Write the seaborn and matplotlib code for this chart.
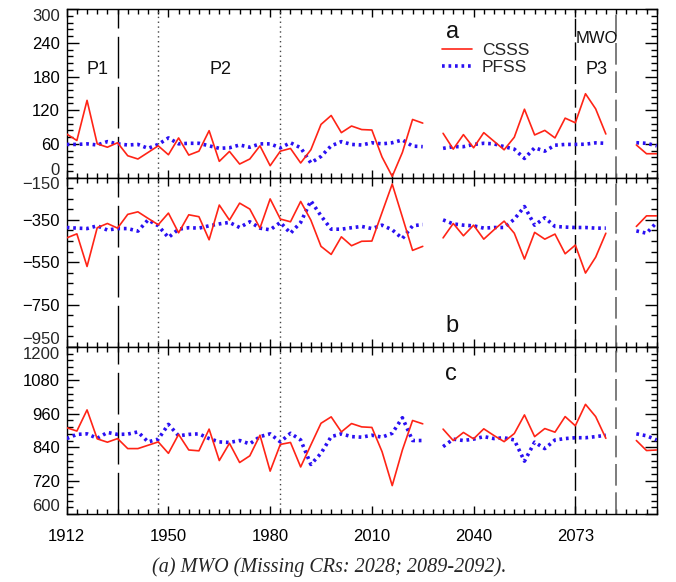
import numpy as np
import pandas as pd
import matplotlib
matplotlib.use("Agg")
import matplotlib.pyplot as plt
from matplotlib.lines import Line2D
import seaborn as sns

# ---------------- data ----------------
nan = np.nan
tick_labels = ["1912", "1950", "1980", "2010", "2040", "2073"]
rot_index = list(range(59))

csss_a = [77.6, 66, 137.6, 60, 54, 62, 38.8, 33, 44.7, 56.5, 40.6, 70.6, 40, 47, 83.5, 28.8, 46.5, 24, 33, 56.5,
          21, 47, 51.8, 25.9, 49.4, 94.7, 110.6, 80, 91.8, 85.5, 84.7, 36.5, 2, 44.7, 103.5, 97, nan, 78.8, 50.6, 76.5,
          53, 80, 64.7, 49.4, 71.8, 121.8, 75.9, 84, 70.6, 105.9, 97.6, 149.4, 122.4, 77.6, nan, nan, 58, 42.4, 42.4]
pfss_a = [59, 59, 60, 58, 64, 60, 58, 59, 52, 59, 70.6, 60, 61, 61, 56.5, 52, 53, 58, 54, 60,
          60, 53, 62, 53, 26, 37.6, 56.5, 64, 59, 58, 62, 60, 62, 67, 56, 55, nan, 52, 55, 55,
          59, 61, 60, 55, 50.6, 34, 53, 47, 57.6, 59, 59, 59.4, 61.8, 61, nan, nan, 62, 61, 56.5]
csss_b = [-435, -416, -570, -387, -367, -389, -324, -312, -343, -373, -318, -411, -326, -335, -444, -280, -351, -271, -299, -389,
          -251, -346, -359, -263, -351, -475, -513, -430, -472, -451, -450, -315, -181, -337, -494, -475, nan, -435, -367, -425,
          -375, -441, -397, -356, -413, -535, -409, -441, -417, -510, -469, -601, -526, -413, nan, nan, -381, -331, -331]
pfss_b = [-386, -389, -391, -378, -398, -391, -391, -403, -350, -378, -433, -394, -387, -389, -378, -369, -362, -386, -359, -389,
          -397, -362, -413, -362, -260, -331, -394, -394, -387, -381, -391, -375, -397, -438, -378, -372, nan, -350, -369, -375,
          -378, -389, -386, -386, -347, -287, -375, -340, -381, -384, -386, -386, -389, -389, nan, nan, -402, -413, -362]
csss_c = [910, 898, 974, 870, 858, 871, 835, 835, 847, 859, 818, 886, 830, 827, 905, 792, 854, 785, 809, 883,
          754, 850, 857, 769, 848, 926, 949, 895, 925, 913, 911, 824, 702, 830, 936, 924, nan, 905, 864, 893,
          870, 906, 882, 860, 889, 956, 878, 907, 894, 950, 917, 994, 950, 872, nan, nan, 864, 828, 830]
pfss_c = [871, 886, 888, 872, 893, 886, 887, 895, 859, 869, 922, 881, 886, 888, 871, 859, 857, 864, 852, 878,
          888, 859, 890, 866, 778, 818, 878, 888, 878, 876, 883, 876, 890, 946, 864, 864, nan, 842, 869, 864,
          869, 878, 871, 874, 866, 790, 858, 835, 866, 871, 874, 874, 878, 883, nan, nan, 888, 881, 866]

panels = [("a", csss_a, pfss_a), ("b", csss_b, pfss_b), ("c", csss_c, pfss_c)]

# ---------------- style ----------------
sns.set_style("ticks")
plt.rcParams["font.family"] = ["Liberation Sans", "DejaVu Sans"]
plt.rcParams["axes.linewidth"] = 1.0

RED = "#ff2416"
BLUE = "#2a10f2"

W, H = 676, 582
fig = plt.figure(figsize=(W / 100, H / 100), dpi=100)
L, R = 66.7 / W, 656.7 / W
bounds = [(9.3, 177.5), (177.5, 347.0), (347.0, 514.0)]

ylims = [(0, 300), (-950, -150), (600, 1200)]
ymajor = [np.arange(0, 301, 60), np.arange(-950, -149, 200), np.arange(600, 1201, 120)]
yminor = [np.arange(0, 301, 12), np.arange(-950, -149, 50), np.arange(600, 1201, 24)]


def to_frame(vals):
    v = np.array(vals, dtype=float)
    seg = np.cumsum(np.isnan(v))
    df = pd.DataFrame({"x": rot_index, "v": v, "seg": seg})
    return df.dropna()


def fmt(t):
    t = int(t)
    return ("\u2212" + str(-t)) if t < 0 else str(t)


axes = []
for k, ((name, csss, pfss), (top, bot)) in enumerate(zip(panels, bounds)):
    ax = fig.add_axes([L, 1 - bot / H, R - L, (bot - top) / H])
    axes.append(ax)
    sns.lineplot(data=to_frame(pfss), x="x", y="v", units="seg", estimator=None, ax=ax,
                 color=BLUE, lw=2.6, linestyle=(0, (0.75, 1.05)), dash_capstyle="butt", zorder=3)
    sns.lineplot(data=to_frame(csss), x="x", y="v", units="seg", estimator=None, ax=ax,
                 color=RED, lw=1.2, zorder=4)

    # period boundaries
    ax.axvline(5, color="black", lw=1.0, linestyle=(0, (30, 6)), zorder=2)
    ax.axvline(9, color="#444444", lw=1.0, linestyle=(0, (1, 2.5)), zorder=2)
    ax.axvline(21, color="#444444", lw=1.0, linestyle=(0, (1, 2.5)), zorder=2)
    ax.axvline(50, color="black", lw=1.0, linestyle=(0, (13, 4)), zorder=2)
    ax.axvline(54, color="#666666", lw=1.2, linestyle=(0, (13, 4)), zorder=2)

    ax.set_xlim(0, 58)
    ax.set_ylim(*ylims[k])
    ax.set_xticks(range(0, 51, 10))
    ax.set_xticks(rot_index, minor=True)
    ax.set_yticks(ymajor[k])
    ax.set_yticks(yminor[k], minor=True)
    ylabs = [fmt(t) for t in ymajor[k]]
    ax.set_yticklabels([""] + ylabs[1:-1] + [""], fontsize=12)
    # end labels, shifted inward as in the original
    ax.annotate(ylabs[0], xy=(0, ymajor[k][0]), xycoords=("axes fraction", "data"),
                xytext=(-4.8, 5.2), textcoords="offset points", ha="right", va="center", fontsize=12)
    ax.annotate(ylabs[-1], xy=(0, ymajor[k][-1]), xycoords=("axes fraction", "data"),
                xytext=(-4.8, -5.2), textcoords="offset points", ha="right", va="center", fontsize=12)

    ax.tick_params(axis="both", which="both", direction="in", top=True, right=True,
                   width=1.0, color="black", labelcolor="black")
    ax.tick_params(axis="x", which="major", length=6.0, pad=10.5)
    ax.tick_params(axis="x", which="minor", length=3.4)
    ax.tick_params(axis="y", which="major", length=8.6, pad=4.8)
    ax.tick_params(axis="y", which="minor", length=4.3)
    if k < 2:
        ax.set_xticklabels([])
    else:
        ax.set_xticklabels(tick_labels, fontsize=12)
    ax.set_xlabel("")
    ax.set_ylabel("")
    for sp in ax.spines.values():
        sp.set_visible(True)
        sp.set_linewidth(1.0)
        sp.set_color("black")

ax_a, ax_b, ax_c = axes
txt = dict(fontsize=13, color="#111111", ha="center", va="center")
ax_a.text(3.0, 193, "P1", **txt)
ax_a.text(15.1, 193, "P2", **txt)
ax_a.text(52.1, 193, "P3", **txt)
ax_a.text(52.1, 248, "MWO", fontsize=12, color="#111111", ha="center", va="center")
ax_a.text(37.9, 259, "a", fontsize=17, color="#111111", ha="center", va="center")
ax_b.text(37.9, -852, "b", fontsize=17, color="#111111", ha="center", va="center")
ax_c.text(37.8, 1102, "c", fontsize=17, color="#111111", ha="center", va="center")

handles = [Line2D([], [], color=RED, lw=1.2),
           Line2D([], [], color=BLUE, lw=2.6, linestyle=(0, (0.75, 1.05)), dash_capstyle="butt")]
ax_a.legend(handles, ["CSSS", "PFSS"], loc="upper left", bbox_to_anchor=(442 / W, 1 - 43 / H),
            bbox_transform=fig.transFigure, frameon=False, fontsize=12.5, handlelength=1.75,
            handletextpad=0.55, labelspacing=0.1, borderpad=0, borderaxespad=0)

fig.text(329.5 / W, 1 - 567 / H, "(a) MWO (Missing CRs: 2028; 2089-2092).", ha="center", va="center",
         fontsize=14.5, family="Liberation Serif", style="italic")

fig.savefig("out.png", dpi=100, facecolor="white")
